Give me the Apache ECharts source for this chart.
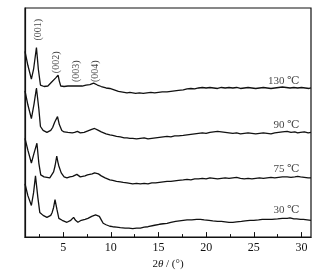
<!DOCTYPE html>
<html>
<head>
<meta charset="utf-8">
<script src="https://cdn.jsdelivr.net/npm/echarts@6/dist/echarts.min.js"></script>
<style>
  html, body { margin: 0; padding: 0; background: #fff; }
  #chart { width: 335px; height: 275px; }
</style>
</head>
<body>
<div id="chart"></div>
<script>
// XRD patterns, stacked; [2theta, intensity (a.u., offset)]
const curve130 = [[1.0,188],[1.3,174],[1.67,160],[1.9,170],[2.2,192],[2.4,170],[2.62,154],[2.8,152],[3.0,152.5],[3.2,152],[3.4,153],[3.6,155],[3.8,157],[4.0,159],[4.2,161],[4.47,164],[4.6,158],[4.75,153],[4.9,152],[5.1,152.5],[5.3,152],[5.5,153],[5.7,152.5],[5.9,153],[6.1,153.5],[6.3,153],[6.5,154.5],[6.65,153],[6.8,153.5],[7.0,153],[7.2,153.5],[7.4,154],[7.6,154],[7.8,154.5],[8.0,155],[8.2,156],[8.4,155],[8.6,154],[8.8,153],[9.0,152.5],[9.2,152],[9.5,151],[9.9,150.5],[10.2,149.5],[10.5,148.5],[10.8,147.5],[11.1,147],[11.4,146.5],[11.7,146],[12.0,146.5],[12.3,146],[12.6,145.5],[13.0,146],[13.4,145.5],[13.8,146],[14.2,146.5],[14.6,146],[15.0,146.5],[15.4,147],[15.9,147],[16.3,147.5],[16.7,148],[17.1,148.5],[17.6,149],[18.0,150],[18.4,150.5],[18.8,150],[19.2,151],[19.6,151.5],[20.0,151],[20.4,151.5],[20.8,151],[21.2,150.5],[21.6,151.5],[22.0,151],[22.4,151.5],[22.8,151],[23.2,151.5],[23.6,150.5],[24.0,151],[24.4,151.5],[24.8,151],[25.2,150.5],[25.6,151],[26.0,151.5],[26.4,151],[26.8,150.5],[27.2,151],[27.6,151.5],[28.0,152],[28.4,151.5],[28.8,151],[29.2,151.5],[29.6,151],[30.0,151.5],[30.4,151],[30.8,150.5],[31,151]];
const curve90 = [[1.0,148],[1.3,134],[1.67,120],[1.95,135],[2.2,151],[2.45,130],[2.62,112],[2.9,108],[3.1,106.5],[3.3,106],[3.5,107],[3.7,108],[3.9,111],[4.1,116],[4.25,119],[4.41,122],[4.6,114],[4.86,108],[5.1,106.5],[5.3,105.5],[5.5,106],[5.7,105],[5.95,105.5],[6.2,106],[6.5,107],[6.65,105.5],[6.8,105.5],[7.0,106.5],[7.2,106],[7.4,107],[7.6,107.5],[7.8,108],[8.0,109],[8.3,110],[8.5,109],[8.7,108],[9.0,106.5],[9.2,105.5],[9.5,104.5],[9.9,103.5],[10.2,103],[10.6,102],[11.0,101.5],[11.4,100.5],[11.7,100.5],[12.0,100],[12.3,100],[12.7,99.5],[13.1,100],[13.5,100.5],[13.9,99.5],[14.3,100],[14.7,100.5],[15.1,101],[15.5,101.5],[15.9,102],[16.3,101.5],[16.7,102.5],[17.1,102.5],[17.6,103],[18.0,103.5],[18.4,104],[18.8,104.5],[19.2,105],[19.6,105.5],[20.0,105],[20.4,106],[20.8,106.5],[21.2,107],[21.6,106.5],[22.0,106],[22.4,105.5],[22.8,105],[23.2,105.5],[23.6,104.5],[24.0,105],[24.4,105.5],[24.8,105],[25.2,104.5],[25.6,105],[26.0,105.5],[26.4,105],[26.8,104.5],[27.2,105.5],[27.6,106],[28.0,106.5],[28.5,107],[28.9,106],[29.3,106.5],[29.6,105.5],[29.9,106],[30.3,106.5],[30.7,105.5],[31,106]];
const curve75 = [[1.0,100],[1.3,88],[1.67,75],[1.95,85],[2.25,95],[2.45,75],[2.65,63],[2.85,61.5],[3.0,61],[3.3,60.5],[3.6,60],[3.8,62],[4.0,66],[4.15,72],[4.33,82],[4.45,76],[4.55,72],[4.8,65],[5.1,61],[5.4,60],[5.7,61],[6.0,61.5],[6.2,62],[6.44,63.5],[6.6,61.5],[6.8,61],[7.0,62],[7.3,62],[7.55,63],[7.8,63.5],[8.05,64],[8.3,65],[8.5,64.5],[8.7,64],[9.0,62],[9.4,60],[9.65,59],[9.9,58],[10.2,57.5],[10.6,56.5],[11.0,56],[11.3,55.5],[11.7,55],[12.0,54.5],[12.3,54],[12.7,54.5],[13.1,54],[13.5,54.5],[13.9,54],[14.3,55],[14.7,55],[15.1,55.5],[15.5,56],[15.9,56.5],[16.3,56.5],[16.7,57],[17.1,57.5],[17.6,58],[18.0,58.5],[18.4,58],[18.8,59],[19.2,59],[19.6,59.5],[20.0,59],[20.4,60],[20.8,59.5],[21.2,59],[21.6,59.5],[22.0,60],[22.4,59.5],[22.8,60],[23.2,60.5],[23.6,59.5],[24.0,59],[24.4,59.5],[24.8,59],[25.2,59.5],[25.6,60],[26.0,59.5],[26.4,60],[26.8,60.5],[27.2,60],[27.6,60.5],[28.0,61],[28.5,61],[28.9,60.5],[29.3,61],[29.6,61.5],[29.9,61],[30.3,60.5],[30.7,60],[31,60]];
const curve30 = [[1.0,54],[1.3,42],[1.67,32],[1.9,45],[2.1,62],[2.35,40],[2.55,25],[2.75,23],[2.9,22],[3.1,21],[3.3,20],[3.5,20.5],[3.7,22],[3.85,25],[4.0,30],[4.15,38],[4.25,33],[4.35,28],[4.55,19],[4.75,18],[4.9,17],[5.15,16],[5.4,15],[5.6,16],[5.8,17],[5.95,18.5],[6.1,20],[6.2,18.5],[6.3,17],[6.55,15],[6.7,16.5],[6.9,17],[7.1,17.5],[7.3,18],[7.45,18.5],[7.6,19],[7.8,20],[8.0,21],[8.2,21.5],[8.4,22.5],[8.6,22],[8.8,21],[9.0,17.5],[9.2,14],[9.5,12.5],[9.9,11],[10.2,10.5],[10.6,10],[11.0,9.5],[11.5,9],[11.9,9],[12.3,8.5],[12.7,9],[13.1,9],[13.5,10],[13.9,10.5],[14.1,11],[14.6,12],[15.1,13],[15.5,13.5],[15.9,14],[16.3,15],[16.8,16],[17.2,16.5],[17.6,17],[18.0,17.5],[18.5,17.5],[19.0,18],[19.4,18],[19.8,17.5],[20.3,17],[20.7,16.5],[21.2,16],[21.6,16],[22.0,15.5],[22.4,15],[22.8,15],[23.2,15.5],[23.7,16],[24.1,16.5],[24.6,17],[25.0,17],[25.5,17.5],[25.9,18],[26.4,18],[26.9,18],[27.5,18.5],[28.0,19],[28.5,19],[28.8,19.5],[29.2,18.5],[29.5,18.5],[29.9,18],[30.2,18],[30.6,17.5],[31,17]];

const tempLabels = ["130 ℃", "90 ℃", "75 ℃", "30 ℃"];
const tempLabelY = [158, 113, 69, 27];
const tempLabelX = 29.8;

const peakLabels = ["(001)", "(002)", "(003)", "(004)"];
const peakX = [2.4, 4.33, 6.44, 8.33];
const peakY = [210, 177, 168, 168];

const majorTicks = [5, 10, 15, 20, 25, 30];
const minorTicks = [2.5, 7.5, 12.5, 17.5, 22.5, 27.5];

const serif = '"Liberation Serif", "DejaVu Serif", serif';
const ink = "#111";

const chart = echarts.init(document.getElementById("chart"), null, { renderer: "canvas" });

function curveSeries(data) {
  return {
    type: "line",
    data: data,
    showSymbol: false,
    silent: true,
    lineStyle: { color: ink, width: 1.3 },
    xAxisIndex: 0,
    yAxisIndex: 0,
  };
}

chart.setOption({
  animation: false,
  backgroundColor: "#fff",
  grid: {
    left: 25, right: 24, top: 8, bottom: 35,
    show: true, borderColor: ink, borderWidth: 1.2, backgroundColor: "transparent",
  },
  xAxis: [
    {
      type: "value", min: 1, max: 31,
      name: "2{i|θ} / (°)", nameLocation: "middle", nameGap: 16,
      nameTextStyle: {
        fontFamily: serif, fontSize: 11, color: ink,
        rich: { i: { fontFamily: serif, fontStyle: "italic", fontSize: 11, color: ink } },
      },
      axisLine: { show: true, lineStyle: { color: ink, width: 1.2 } },
      axisTick: { show: true, inside: true, length: 3, customValues: minorTicks, lineStyle: { color: ink } },
      axisLabel: { show: true, customValues: majorTicks, margin: 5, fontFamily: serif, fontSize: 12, color: ink },
      splitLine: { show: false },
    },
    {
      type: "value", min: 1, max: 31, position: "bottom",
      axisLine: { show: false },
      axisTick: { show: true, inside: true, length: 5, customValues: majorTicks, lineStyle: { color: ink } },
      axisLabel: { show: false },
      splitLine: { show: false },
    },
  ],
  yAxis: {
    type: "value", min: 0, max: 232,
    axisLine: { show: true, lineStyle: { color: ink, width: 1.2 } },
    axisTick: { show: false },
    axisLabel: { show: false },
    splitLine: { show: false },
  },
  series: [
    curveSeries(curve130),
    curveSeries(curve90),
    curveSeries(curve75),
    curveSeries(curve30),
    {
      type: "scatter",
      symbolSize: 0,
      silent: true,
      data: tempLabels.map((t, i) => ({ value: [tempLabelX, tempLabelY[i]], name: t })),
      label: {
        show: true, position: "left", distance: 0,
        formatter: p => p.name,
        fontFamily: serif, fontSize: 11, color: ink,
      },
    },
    {
      type: "scatter",
      symbolSize: 0,
      silent: true,
      data: peakLabels.map((t, i) => ({ value: [peakX[i], peakY[i]], name: t })),
      label: {
        show: true, position: "inside", rotate: 90,
        formatter: p => p.name,
        fontFamily: serif, fontSize: 10, color: ink,
      },
    },
  ],
});
</script>
</body>
</html>
